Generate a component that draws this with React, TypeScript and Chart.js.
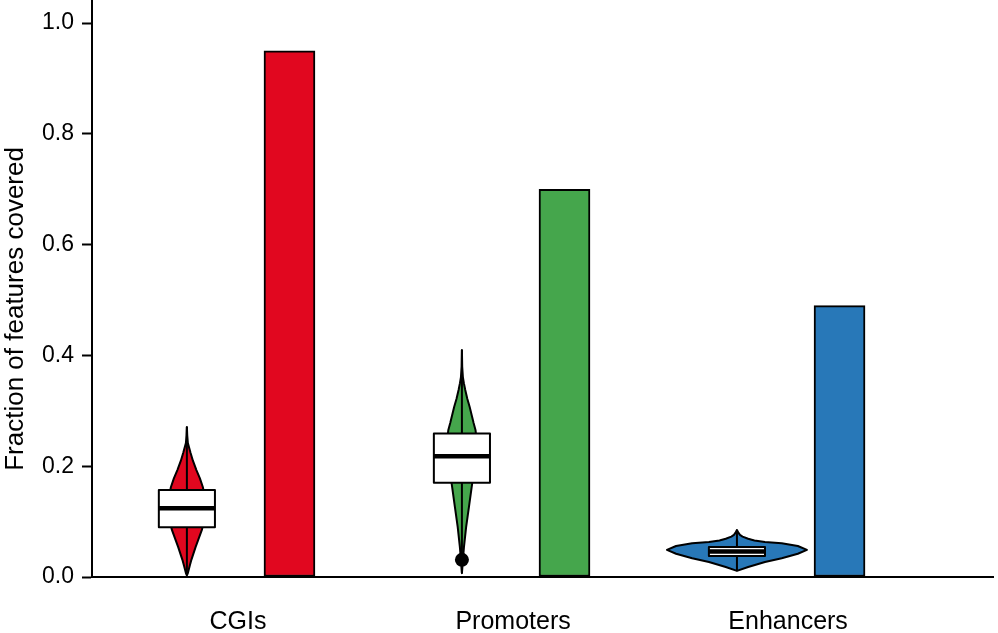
import React, { useEffect, useRef } from "react";
import { Chart, registerables } from "chart.js";

Chart.register(...registerables);

// ---------------- data ----------------
const categories = ["CGIs", "Promoters", "Enhancers"];
const coverage = [0.95, 0.7, 0.49];
const barColors = ["#E1071F", "#45A64C", "#2878B8"];

const q1 = [0.09, 0.17, 0.038];
const median = [0.124, 0.218, 0.046];
const q3 = [0.157, 0.259, 0.054];
const whiskerMin = [0.003, 0.007, 0.011];
const whiskerMax = [0.271, 0.41, 0.085];
const outliers = [[], [0.031], []];

// violin profiles: y values and relative half-widths (1 = widest violin)
const cgiViolinY = [0.003, 0.007, 0.02, 0.031, 0.054, 0.085, 0.105, 0.125, 0.145, 0.162, 0.178, 0.193, 0.21, 0.224, 0.242, 0.256, 0.271];
const cgiViolinW = [0, 0.014, 0.04, 0.064, 0.124, 0.214, 0.25, 0.264, 0.252, 0.229, 0.186, 0.136, 0.086, 0.053, 0.014, 0.005, 0];
const promoterViolinY = [0.007, 0.02, 0.031, 0.054, 0.09, 0.126, 0.162, 0.19, 0.22, 0.25, 0.265, 0.278, 0.292, 0.307, 0.322, 0.338, 0.35, 0.361, 0.38, 0.41];
const promoterViolinW = [0, 0.008, 0.014, 0.029, 0.06, 0.1, 0.139, 0.17, 0.2, 0.207, 0.195, 0.167, 0.14, 0.111, 0.077, 0.047, 0.028, 0.014, 0.004, 0];
const enhancerViolinY = [0.011, 0.018, 0.027, 0.034, 0.042, 0.049, 0.056, 0.061, 0.063, 0.066, 0.069, 0.073, 0.076, 0.08, 0.085];
const enhancerViolinW = [0, 0.16, 0.4, 0.64, 0.87, 1.0, 0.87, 0.64, 0.4, 0.25, 0.16, 0.08, 0.043, 0.02, 0];

const violinY = [cgiViolinY, promoterViolinY, enhancerViolinY];
const violinW = [cgiViolinW, promoterViolinW, enhancerViolinW];

const yTickValues = [0, 0.2, 0.4, 0.6, 0.8, 1.0];
const yTitle = "Fraction of features covered";

// ---------------- style ----------------
const FONT = "'Liberation Sans', Arial, Helvetica, sans-serif";
const VIOLIN_OFFSET = -0.186;
const BAR_OFFSET = 0.187;
const VIOLIN_MAX_HALF = 0.2545; // x units
const BOX_HALF = 0.102; // x units
const TITLE_CENTER_VALUE = 0.484;

const violinPlugin = {
  id: "violinBox",
  afterDatasetsDraw(chart: any) {
    const { ctx } = chart;
    const xs = chart.scales.x;
    const ys = chart.scales.y;
    const unit = xs.getPixelForValue(1) - xs.getPixelForValue(0);
    categories.forEach((_, i) => {
      const cx = xs.getPixelForValue(i + VIOLIN_OFFSET);
      const halfPx = VIOLIN_MAX_HALF * unit;
      const vy = violinY[i];
      const vw = violinW[i];
      ctx.save();
      ctx.lineJoin = "round";
      ctx.lineCap = "butt";
      // violin body
      ctx.beginPath();
      vy.forEach((v, k) => {
        const px = cx + vw[k] * halfPx;
        const py = ys.getPixelForValue(v);
        if (k === 0) ctx.moveTo(px, py);
        else ctx.lineTo(px, py);
      });
      for (let k = vy.length - 1; k >= 0; k--) {
        ctx.lineTo(cx - vw[k] * halfPx, ys.getPixelForValue(vy[k]));
      }
      ctx.closePath();
      ctx.fillStyle = barColors[i];
      ctx.fill();
      ctx.strokeStyle = "#000";
      ctx.lineWidth = 2;
      ctx.stroke();
      // central line
      ctx.beginPath();
      ctx.moveTo(cx, ys.getPixelForValue(whiskerMin[i]));
      ctx.lineTo(cx, ys.getPixelForValue(whiskerMax[i]));
      ctx.lineWidth = 2;
      ctx.stroke();
      // box
      const bx = cx - BOX_HALF * unit;
      const bw = 2 * BOX_HALF * unit;
      const top = ys.getPixelForValue(q3[i]);
      const bot = ys.getPixelForValue(q1[i]);
      ctx.fillStyle = "#fff";
      ctx.fillRect(bx, top, bw, bot - top);
      ctx.lineWidth = 2;
      ctx.strokeRect(bx, top, bw, bot - top);
      // median
      ctx.beginPath();
      const my = ys.getPixelForValue(median[i]);
      ctx.moveTo(bx, my);
      ctx.lineTo(bx + bw, my);
      ctx.lineWidth = 4.5;
      ctx.stroke();
      // outliers
      outliers[i].forEach((o) => {
        ctx.beginPath();
        ctx.arc(cx, ys.getPixelForValue(o), 7, 0, Math.PI * 2);
        ctx.fillStyle = "#000";
        ctx.fill();
      });
      ctx.restore();
    });
  },
  afterDraw(chart: any) {
    const { ctx } = chart;
    const ys = chart.scales.y;
    ctx.save();
    ctx.translate(16, ys.getPixelForValue(TITLE_CENTER_VALUE));
    ctx.rotate(-Math.PI / 2);
    ctx.font = `26px ${FONT}`;
    ctx.fillStyle = "#000";
    ctx.textAlign = "center";
    ctx.textBaseline = "middle";
    ctx.fillText(yTitle, 0, 0);
    ctx.restore();
  },
};

export default function App() {
  const ref = useRef<HTMLCanvasElement>(null);
  useEffect(() => {
    const chart = new Chart(ref.current as HTMLCanvasElement, {
      type: "bar",
      data: {
        datasets: [
          {
            data: coverage.map((v, i) => ({ x: i + BAR_OFFSET, y: v })),
            backgroundColor: barColors,
            borderColor: "#000",
            borderWidth: 2,
            borderSkipped: false,
            barThickness: 51,
          } as any,
        ],
      },
      options: {
        animation: false,
        responsive: false,
        devicePixelRatio: 1,
        layout: { padding: { top: 1, right: 5, left: 0, bottom: 0 } },
        plugins: { legend: { display: false }, tooltip: { enabled: false } },
        scales: {
          x: {
            type: "linear",
            offset: false,
            bounds: "data",
            min: -0.531,
            max: 2.745,
            afterBuildTicks: (s: any) => {
              s.ticks = categories.map((_, i) => ({ value: i }));
            },
            afterFit: (s: any) => {
              s.height = 56;
            },
            ticks: {
              callback: (_v: any, idx: number) => categories[idx],
              font: { size: 25, family: FONT },
              color: "#000",
              padding: 22,
              maxRotation: 0,
              autoSkip: false,
            },
            grid: { display: false },
            border: { color: "#000", width: 2 },
          },
          y: {
            min: 0,
            max: 1.04,
            afterBuildTicks: (s: any) => {
              s.ticks = yTickValues.map((v) => ({ value: v }));
            },
            afterFit: (s: any) => {
              s.width = 92;
              s.paddingTop = 0;
              s.paddingBottom = 0;
            },
            ticks: {
              callback: (v: any) => Number(v).toFixed(1),
              font: { size: 23, family: FONT },
              color: "#000",
              padding: 8,
            },
            grid: {
              drawOnChartArea: false,
              drawTicks: true,
              tickLength: 10,
              tickWidth: 2,
              tickColor: "#000",
              color: "#000",
            },
            border: { color: "#000", width: 2 },
          },
        },
      },
      plugins: [violinPlugin],
    } as any);
    return () => chart.destroy();
  }, []);
  return (
    <div style={{ position: "fixed", left: 0, top: 0, width: 998, height: 633, background: "#fff" }}>
      <canvas ref={ref} width={998} height={633} style={{ display: "block" }} />
    </div>
  );
}
